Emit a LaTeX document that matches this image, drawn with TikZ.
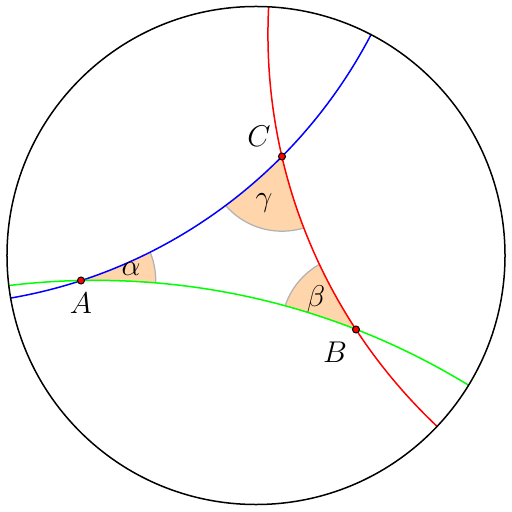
\documentclass[tikz,border=0pt]{standalone}
\tikzset{
  geod/.style={line width=0.6pt},
  angfill/.style={fill=orange!33},
  angedge/.style={draw=gray!60, line width=0.5pt},
  vertex/.style={fill=red, draw=black, line width=0.4pt},
  lbl/.style={inner sep=0pt, font=\large}
}
\begin{document}
\begin{tikzpicture}[x=3.5cm,y=3.5cm]
\useasboundingbox (-1.0281,-1.0301) rectangle (1.0281,1.0261);
% vertices
\coordinate (A) at (-0.7028,-0.1004);
\coordinate (B) at (0.4016,-0.2972);
\coordinate (C) at (0.1044,0.3976);
% centres of the geodesic circles
\coordinate (cb) at (-1.3299,1.8192);
\coordinate (cg) at (-0.6451,-2.9741);
\coordinate (cr) at (2.2135,0.8888);
\coordinate (O) at (0,0);
% angle sectors
\begin{scope}[even odd rule]
  \clip (O) circle (1);
  \clip (-10,-10) rectangle (10,10) (cb) circle (2.0194);
  \clip (-10,-10) rectangle (10,10) (cg) circle (2.8743);
  \clip (-10,-10) rectangle (10,10) (cr) circle (2.1655);
  \fill[angfill] (A) circle (0.3) (B) circle (0.3) (C) circle (0.3);
  \draw[angedge] (A) circle (0.3) (B) circle (0.3) (C) circle (0.3);
\end{scope}
% geodesics
\begin{scope}
  \clip (O) circle (1);
  \draw[geod, blue] (cb) circle (2.0194);
  \draw[geod, green] (cg) circle (2.8743);
  \draw[geod, red] (cr) circle (2.1655);
\end{scope}
% boundary
\draw[line width=0.6pt] (O) circle (1);
% vertices
\fill[vertex] (A) circle (1.4pt);
\fill[vertex] (B) circle (1.4pt);
\fill[vertex] (C) circle (1.4pt);
% labels
\node[lbl] (lA) at (-0.703,-0.192) {$A$};
\node[lbl] (lB) at (0.317,-0.389) {$B$};
\node[lbl] (lC) at (0.012,0.478) {$C$};
\node[lbl] (la) at (-0.502,-0.056) {$\alpha$};
\node[lbl] (lb) at (0.241,-0.173) {$\beta$};
\node[lbl] (lg) at (0.032,0.213) {$\gamma$};
\end{tikzpicture}
\end{document}
